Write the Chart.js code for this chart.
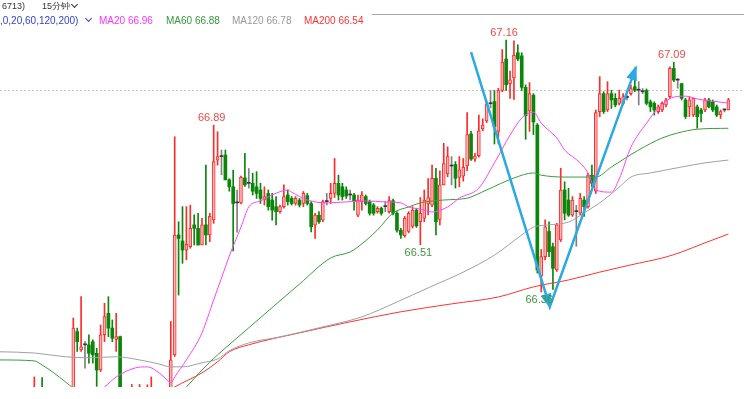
<!DOCTYPE html>
<html>
<head>
<meta charset="utf-8">
<script src="https://cdn.jsdelivr.net/npm/chart.js@4.4.0/dist/chart.umd.min.js"></script>
<style>
  body { margin: 0; background: #fff; }
  #wrap { position: relative; width: 744px; height: 399px; overflow: hidden; }
  #c { position: absolute; left: 0; top: 0; }
  .t { position: absolute; white-space: nowrap; font-family: "Liberation Sans", Arial, sans-serif; }
  .r1 { top: 1px; font-size: 9px; line-height: 11px; color: #333; }
  .r2 { top: 14px; font-size: 10px; line-height: 13px; }
  .chev { position: absolute; width: 4px; height: 4px; border-right: 1.2px solid; border-bottom: 1.2px solid; transform: rotate(45deg); }
</style>
</head>
<body>
<div id="wrap">
  <canvas id="c" width="744" height="399"></canvas>
</div>
<script>
// candle data, one entry per 15 min bar (index 0 is the left edge)
const opens = [
66.00,65.97,66.00,65.98,66.01,65.99,66.00,65.97,65.99,66.00,
66.03,66.02,65.99,66.00,65.96,65.93,65.95,65.92,65.96,66.00,
66.234,66.176,66.192,66.192,66.202,66.165,66.112,66.224,66.292,66.245,
66.209,66.218,65.98,65.95,65.97,66.00,65.96,66.01,65.97,66.00,
66.03,65.98,65.95,65.98,65.95,66.16,66.541,66.522,66.493,66.504,
66.573,66.562,66.509,66.573,66.541,66.589,66.779,66.79,66.795,66.716,
66.694,66.643,66.643,66.722,66.705,66.705,66.694,66.684,66.652,66.673,
66.652,66.631,66.615,66.631,66.668,66.657,66.641,66.652,66.641,66.666,
66.641,66.572,66.604,66.588,66.647,66.657,66.673,66.705,66.694,66.684,
66.668,66.668,66.604,66.647,66.663,66.647,66.636,66.615,66.626,66.631,
66.615,66.65,66.61,66.556,66.539,66.552,66.568,66.62,66.583,66.594,
66.64,66.636,66.721,66.59,66.70,66.735,66.76,66.765,66.724,66.728,
66.76,66.862,66.782,66.793,66.878,66.903,66.958,66.965,66.87,67.00,
67.10,67.022,67.04,67.12,67.11,67.01,66.935,66.985,66.89,66.41,
66.472,66.552,66.504,66.43,66.525,66.684,66.652,66.604,66.615,66.61,
66.652,66.631,66.731,66.68,66.933,66.99,66.938,66.99,66.975,66.959,
66.959,66.978,66.99,67.012,67.001,66.996,67.00,66.964,66.959,66.933,
66.938,66.954,66.98,67.07,67.033,67.022,66.97,66.948,66.922,66.948,
66.938,66.938,66.97,66.964,66.948,66.922,66.938,66.938
];
const highs = [
66.02,66.03,66.02,66.03,66.03,66.03,66.02,66.02,66.04,66.09,
66.04,66.088,66.03,66.02,65.98,65.98,65.97,65.99,66.02,66.277,
66.245,66.345,66.202,66.224,66.208,66.181,66.255,66.324,66.345,66.271,
66.292,66.22,66.00,66.02,66.066,66.02,66.066,66.03,66.065,66.09,
66.04,66.00,66.01,66.00,66.266,66.853,66.583,66.631,66.631,66.636,
66.605,66.61,66.594,66.763,66.61,66.89,66.869,66.811,66.811,66.72,
66.747,66.684,66.728,66.80,66.752,66.737,66.742,66.705,66.694,66.684,
66.673,66.663,66.636,66.70,66.684,66.663,66.663,66.657,66.679,66.673,
66.647,66.61,66.615,66.652,66.673,66.705,66.784,66.731,66.705,66.694,
66.684,66.673,66.668,66.679,66.668,66.652,66.641,66.631,66.63,66.647,
66.663,66.655,66.615,66.562,66.60,66.615,66.631,66.626,66.66,66.684,
66.72,66.763,66.753,66.745,66.832,66.821,66.79,66.774,66.79,66.784,
66.93,66.87,66.80,66.922,66.91,66.964,67.00,67.00,67.007,67.13,
67.16,67.062,67.158,67.145,67.12,67.018,67.025,66.99,66.895,66.495,
66.589,66.583,66.515,66.578,66.753,66.71,66.689,66.663,66.635,66.673,
66.663,66.737,66.763,66.938,67.044,66.996,67.028,67.001,66.99,67.001,
66.99,66.985,67.017,67.044,67.028,67.006,67.005,66.97,66.964,66.954,
66.964,66.975,67.075,67.09,67.038,67.022,66.975,66.98,66.975,66.954,
66.943,66.975,66.975,66.97,66.954,66.938,66.942,66.975
];
const lows = [
65.95,65.96,65.96,65.97,65.97,65.97,65.95,65.96,65.97,65.98,
65.98,65.97,65.97,65.94,65.90,65.91,65.90,65.90,65.94,65.99,
66.171,66.171,66.118,66.134,66.134,66.06,66.107,66.202,66.218,66.202,
66.171,65.96,65.92,65.93,65.95,65.94,65.95,65.95,65.96,65.98,
65.96,65.93,65.93,65.92,65.94,66.155,66.35,66.451,66.462,66.499,
66.509,66.509,66.509,66.509,66.52,66.578,66.763,66.732,66.716,66.68,
66.49,66.55,66.64,66.695,66.69,66.668,66.657,66.641,66.636,66.62,
66.588,66.573,66.61,66.626,66.636,66.636,66.636,66.63,66.631,66.636,
66.551,66.53,66.578,66.583,66.636,66.641,66.66,66.652,66.652,66.657,
66.652,66.62,66.599,66.62,66.636,66.604,66.604,66.61,66.604,66.615,
66.61,66.605,66.55,66.53,66.534,66.548,66.563,66.565,66.51,66.583,
66.605,66.631,66.541,66.573,66.70,66.726,66.70,66.69,66.694,66.712,
66.745,66.778,66.775,66.788,66.872,66.898,66.945,66.83,66.83,66.996,
67.00,66.975,66.972,67.095,67.00,66.845,66.87,66.86,66.42,66.36,
66.462,66.472,66.368,66.425,66.52,66.589,66.60,66.60,66.505,66.605,
66.60,66.626,66.694,66.673,66.917,66.927,66.933,66.943,66.948,66.954,
66.954,66.97,66.985,66.996,66.954,66.99,66.954,66.933,66.922,66.927,
66.933,66.948,66.975,67.028,67.007,66.97,66.911,66.917,66.917,66.88,
66.90,66.933,66.945,66.933,66.917,66.911,66.932,66.938
];
const closes = [
65.97,66.00,65.98,66.01,65.99,66.00,65.97,65.99,66.02,66.03,
66.00,65.99,66.00,65.96,65.93,65.95,65.92,65.96,66.00,66.245,
66.202,66.186,66.192,66.165,66.160,66.112,66.224,66.282,66.245,66.213,
66.218,65.98,65.95,65.98,66.00,65.96,66.01,65.97,66.02,66.03,
65.98,65.95,65.98,65.94,66.144,66.541,66.53,66.493,66.511,66.562,
66.562,66.509,66.573,66.541,66.60,66.774,66.79,66.79,66.716,66.694,
66.641,66.643,66.724,66.70,66.705,66.68,66.673,66.657,66.663,66.631,
66.62,66.615,66.631,66.663,66.647,66.641,66.657,66.636,66.673,66.641,
66.567,66.604,66.583,66.647,66.647,66.673,66.705,66.668,66.663,66.665,
66.668,66.647,66.652,66.668,66.641,66.61,66.61,66.626,66.61,66.631,
66.65,66.61,66.556,66.541,66.594,66.61,66.62,66.57,66.61,66.652,
66.66,66.721,66.583,66.70,66.768,66.79,66.76,66.721,66.748,66.756,
66.86,66.782,66.792,66.872,66.89,66.958,66.958,66.885,67.00,67.09,
67.018,67.034,67.112,67.10,67.01,66.92,66.99,66.90,66.43,66.472,
66.567,66.488,66.435,66.573,66.684,66.61,66.604,66.652,66.615,66.657,
66.631,66.731,66.705,66.93,66.99,66.933,66.99,66.97,66.954,66.975,
66.98,66.978,67.006,67.001,67.001,66.996,66.959,66.948,66.938,66.948,
66.959,66.97,67.07,67.033,67.033,66.975,66.917,66.97,66.975,66.917,
66.927,66.97,66.948,66.938,66.922,66.933,66.938,66.97
];

// moving averages at these bar indexes
const ma20Idx = [16,27,30,35,38,41,43,44,45,48,52,55,57,59,62,64,67,70,74,75,79,84,89,94,99,103,105,108,111,115,118,123,127,131,134,137,139,143,145,149,151,153,157,159,162,166,169,173,176,179,183,187];
const ma20Val = [65.985,66.058,66.09,66.119,66.122,66.103,66.081,66.071,66.09,66.144,66.23,66.335,66.404,66.474,66.566,66.63,66.649,66.668,66.684,66.677,66.652,66.643,66.646,66.649,66.646,66.643,66.63,66.623,66.614,66.63,66.658,66.69,66.77,66.858,66.912,66.931,66.896,66.849,66.811,66.77,66.738,66.684,66.677,66.719,66.82,66.896,66.944,66.979,66.982,66.973,66.966,66.96];
const ma60Idx = [0,9,11,14,17,19,31,42,48,52,56,58,64,77,85,90,92,97,101,105,108,114,120,125,132,137,139,145,153,157,164,170,174,179,187];
const ma60Val = [66.144,66.141,66.128,66.103,66.074,66.055,66.0,65.99,66.058,66.112,66.16,66.182,66.246,66.385,66.468,66.487,66.503,66.557,66.611,66.63,66.643,66.652,66.658,66.684,66.722,66.738,66.731,66.725,66.725,66.757,66.811,66.849,66.865,66.877,66.88];
const ma120Idx = [0,9,17,23,30,36,41,44,47,52,56,59,64,72,82,93,102,110,119,127,134,137,141,146,150,155,159,162,167,175,181,187];
const ma120Val = [66.17,66.166,66.154,66.151,66.154,66.144,66.131,66.122,66.122,66.135,66.147,66.173,66.198,66.217,66.246,66.281,66.328,66.373,66.423,66.477,66.541,66.566,66.573,66.582,66.611,66.652,66.693,66.725,66.738,66.757,66.77,66.779];
const ma200Idx = [0,38,45,52,56,59,64,77,90,103,116,128,137,146,154,162,171,175,181,187];
const ma200Val = [65.95,66.0,66.058,66.103,66.138,66.17,66.192,66.23,66.265,66.297,66.322,66.344,66.376,66.398,66.423,66.446,66.471,66.487,66.516,66.544];

const refLevel = 67.00;
// hand drawn blue arrows (bar index, price)
const arrowIdx = [121.0, 141.2, 163.3];
const arrowVal = [67.122, 66.313, 67.074];
// marked highs / lows
const markIdx = [55, 130, 108, 139, 173];
const markType = ['high', 'high', 'low', 'low', 'high'];

const maNames = ['MA20', 'MA60', 'MA120', 'MA200'];
const maColors = ['#ff44ff', '#3c9c3c', '#a0a0a0', '#ff3333'];
const maText = ['#ff33ff', '#33993a', '#999999', '#ff3333'];

const UP = '#ff2a2a', DOWN = '#0a870a', FLAT = '#333333';

const wrap = document.getElementById('wrap');
function addText(cls, left, txt, color) {
  const d = document.createElement('div');
  d.className = 't ' + cls;
  d.style.left = left + 'px';
  if (color) d.style.color = color;
  d.textContent = txt;
  wrap.appendChild(d);
}
function addChev(left, top, color) {
  const d = document.createElement('div');
  d.className = 'chev';
  d.style.left = left + 'px';
  d.style.top = top + 'px';
  d.style.borderColor = color;
  wrap.appendChild(d);
}
addText('r1', 2, '6713)');
addText('r1', 42, '15分钟');
addChev(72, 2, '#333');
addText('r2', 0, ',0,20,60,120,200)', '#3344cc');
addChev(86, 16, '#3344cc');
const maLast = [ma20Val, ma60Val, ma120Val, ma200Val].map(a => a[a.length - 1]);
const maLeft = [99, 166, 232, 304];
maNames.forEach((n, k) => addText('r2', maLeft[k], n + ' ' + maLast[k].toFixed(2), maText[k]));

const idx = opens.map((_, j) => j);
const dir = idx.map(j => closes[j] > opens[j] ? 1 : (closes[j] < opens[j] ? -1 : 0));

function pts(xs, ys) { return xs.map((x, k) => ({ x: x, y: ys[k] })); }
function maSet(xs, ys, color) {
  return {
    type: 'line', data: pts(xs, ys), borderColor: color, borderWidth: 1,
    pointRadius: 0, cubicInterpolationMode: 'monotone', order: 1, clip: 0
  };
}

const overlay = {
  id: 'overlay',
  afterDatasetsDraw(chart) {
    const { ctx, chartArea, scales: { x, y } } = chart;
    ctx.save();
    // top frame line
    ctx.strokeStyle = '#a8a8a8';
    ctx.lineWidth = 1;
    ctx.beginPath();
    ctx.moveTo(372, chartArea.top + 0.5);
    ctx.lineTo(chartArea.right, chartArea.top + 0.5);
    ctx.stroke();

    // arrow heads
    const p = arrowIdx.map((v, k) => [x.getPixelForValue(v), y.getPixelForValue(arrowVal[k])]);
    ctx.fillStyle = '#2aa9e2';
    function head(a, b, len, half) {
      const t = Math.atan2(b[1] - a[1], b[0] - a[0]);
      const c = Math.cos(t), s = Math.sin(t);
      ctx.beginPath();
      ctx.moveTo(b[0] + 2 * c, b[1] + 2 * s);
      ctx.lineTo(b[0] - len * c + half * s, b[1] - len * s - half * c);
      ctx.lineTo(b[0] - len * c - half * s, b[1] - len * s + half * c);
      ctx.closePath();
      ctx.fill();
    }
    head(p[0], p[1], 13, 5.5);
    head(p[1], p[2], 13, 5.5);

    // high / low values
    ctx.font = '11px "Liberation Sans", Arial, sans-serif';
    ctx.textAlign = 'center';
    ctx.textBaseline = 'middle';
    markIdx.forEach((j, k) => {
      const hi = markType[k] === 'high';
      const v = hi ? highs[j] : lows[j];
      const px = x.getPixelForValue(j) - 2;
      const py = y.getPixelForValue(v);
      ctx.fillStyle = hi ? '#f24848' : '#3d963d';
      ctx.fillText(v.toFixed(2), px, hi ? py - 7 : py + 8);
    });
    ctx.restore();
  }
};

new Chart(document.getElementById('c'), {
  type: 'bar',
  data: {
    datasets: [
      {
        type: 'line', data: pts(arrowIdx, arrowVal), borderColor: '#2aa9e2', borderWidth: 2.5,
        pointRadius: 0, order: 0, clip: 0
      },
      maSet(ma20Idx, ma20Val, maColors[0]),
      maSet(ma60Idx, ma60Val, maColors[1]),
      maSet(ma120Idx, ma120Val, maColors[2]),
      maSet(ma200Idx, ma200Val, maColors[3]),
      {
        data: idx.map(j => ({ x: j, y: [opens[j], closes[j]] })),
        backgroundColor: idx.map(j => dir[j] > 0 ? '#ffb8b8' : (dir[j] < 0 ? DOWN : FLAT)),
        borderColor: idx.map(j => dir[j] > 0 ? UP : 'rgba(0,0,0,0)'),
        borderWidth: idx.map(j => dir[j] > 0 ? 1 : 0),
        borderSkipped: false,
        barThickness: 3, minBarLength: 1, grouped: false, order: 2, clip: 0
      },
      {
        data: idx.map(j => ({ x: j, y: [lows[j], highs[j]] })),
        backgroundColor: idx.map(j => dir[j] > 0 ? UP : (dir[j] < 0 ? DOWN : '#808080')),
        borderWidth: 0,
        barThickness: 1, grouped: false, order: 3, clip: 0
      },
      {
        type: 'line', data: [{ x: 0.2, y: refLevel }, { x: 191, y: refLevel }],
        borderColor: '#c4c4c4', borderWidth: 1, borderDash: [2, 2],
        pointRadius: 0, order: 4, clip: 0
      }
    ]
  },
  options: {
    responsive: false,
    animation: false,
    layout: { padding: { top: 14, bottom: 12, left: 0, right: 0 } },
    scales: {
      x: { type: 'linear', min: 0.2, max: 191, offset: false, display: false },
      y: { min: 66.058, max: 67.243, display: false }
    },
    plugins: { legend: { display: false }, tooltip: { enabled: false } }
  },
  plugins: [overlay]
});
</script>
</body>
</html>
